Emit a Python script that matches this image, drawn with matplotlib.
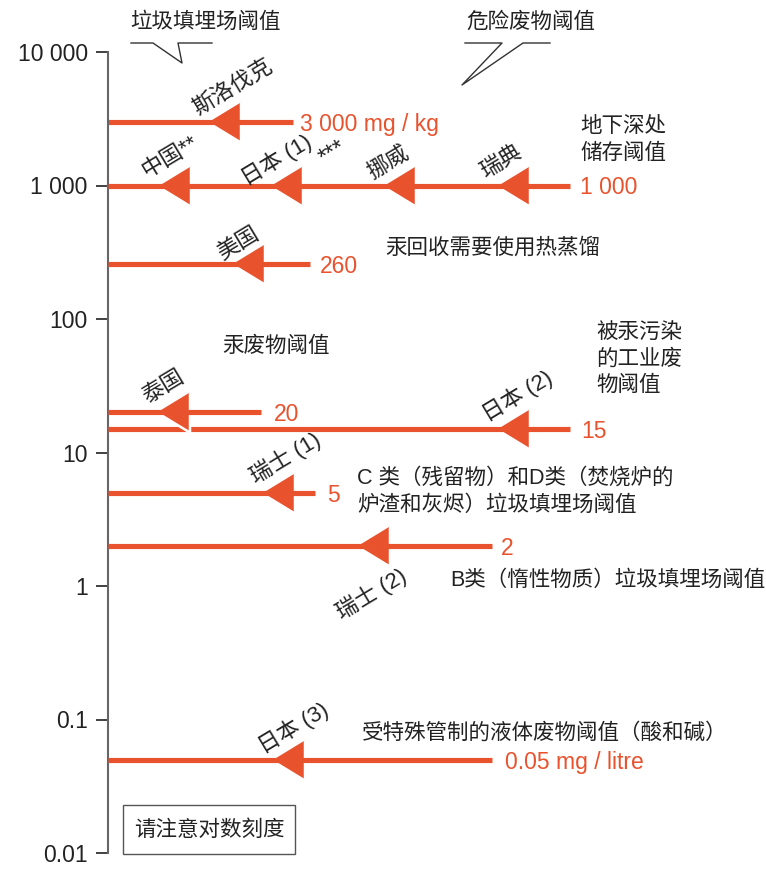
import numpy as np
import matplotlib
matplotlib.use("Agg")
import matplotlib.pyplot as plt
from matplotlib.lines import Line2D
from matplotlib.patches import Rectangle

plt.rcParams['font.family'] = ['Liberation Sans', 'Noto Sans CJK SC']

W, H = 766, 875
ORANGE = "#E8532E"
INK = "#222222"

# Donnees : seuils (mg/kg) et pays
valeurs = [3000, 1000, 260, 15, 20, 5, 2, 0.05]
etiquettes_valeur = ["3 000 mg / kg", "1 000", "260", "15", "20", "5", "2", "0.05 mg / litre"]
pays = [["斯洛伐克"], ["中国**", "日本 (1)", "挪威", "瑞典"], ["美国"], ["日本 (2)"],
        ["泰国"], ["瑞士 (1)"], ["瑞士 (2)"], ["日本 (3)"]]
graduations = [0.01, 0.1, 1, 10, 100, 1000, 10000]
labels_grad = ["0.01", "0.1", "1", "10", "100", "1 000", "10 000"]

# Mise en page (pixels) : fin de ligne, pointes des fleches, position des etiquettes
fin_ligne = [293, 570, 310, 570, 261, 315, 492, 492]
pointes = [[207], [157, 269, 382, 496], [231], [496], [156], [261], [356], [271]]
pos_pays = [[(233, 88)], [(170, 157), (276, 160), (388, 163), (501, 162)], [(238, 244)],
            [(517, 396)], [(163, 387)], [(285, 458)], [(371, 594)], [(293, 728)]]
x_label_val = [300, 580, 320, 581, 274, 327, 501, 505]


def fig_xy(x, y):
    return x / W, 1 - y / H


fig = plt.figure(figsize=(W / 100, H / 100), dpi=100)
y_top, y_bot = 52, 853
ax = fig.add_axes([108 / W, 1 - y_bot / H, (W - 108) / W, (y_bot - y_top) / H])
ax.set_yscale("log")
ax.set_ylim(0.01, 10000)
ax.set_xlim(108, W)
ax.patch.set_alpha(0)
for s in ["top", "right", "bottom"]:
    ax.spines[s].set_visible(False)
ax.spines["left"].set_color("#666666")
ax.spines["left"].set_linewidth(1.5)
ax.set_xticks([])
ax.set_yticks(graduations)
ax.set_yticklabels(labels_grad)
ax.yaxis.set_minor_locator(matplotlib.ticker.NullLocator())
ax.tick_params(axis="y", length=9, width=1.3, color="#333333", pad=5.5,
               labelsize=16.5, labelcolor=INK)

# triangle pointant vers la gauche
tri = [(-0.82, 0), (0.82, -1), (0.82, 1)]
demi = 16.5

for i, v in enumerate(valeurs):
    z = 2 + i
    ax.hlines(v, 108, fin_ligne[i], color=ORANGE, lw=3.7, zorder=z + 0.5)
    xs = [p + demi for p in pointes[i]]
    ax.plot(xs, [v] * len(xs), ls="none", marker=tri, markersize=29,
            color=ORANGE, markeredgecolor="white", markeredgewidth=1.8, zorder=z)
    ax.text(x_label_val[i], v, etiquettes_valeur[i], color=ORANGE, fontsize=16.5,
            ha="left", va="center_baseline", zorder=20)
    for nom, (px, py) in zip(pays[i], pos_pays[i]):
        fig.text(*fig_xy(px, py), nom, rotation=31, rotation_mode="anchor",
                 ha="center", va="center", fontsize=16, color=INK)

fig.text(*fig_xy(333, 153), "***", rotation=31, rotation_mode="anchor",
         ha="center", va="center", fontsize=17, color=INK)

# Textes explicatifs
textes = [
    ("垃圾填埋场阈值", 130, 22), ("危险废物阈值", 466, 22),
    ("地下深处", 580, 127), ("储存阈值", 580, 153),
    ("汞回收需要使用热蒸馏", 385, 248), ("汞废物阈值", 222, 346),
    ("被汞污染", 596, 332), ("的工业废", 596, 359), ("物阈值", 596, 385),
    ("C 类（残留物）和D类（焚烧炉的", 357, 478), ("炉渣和灰烬）垃圾填埋场阈值", 357, 505),
    ("B类（惰性物质）垃圾填埋场阈值", 450, 580),
    ("受特殊管制的液体废物阈值（酸和碱）", 362, 733),
]
for t, x, y in textes:
    fig.text(*fig_xy(x, y), t, ha="left", va="center", fontsize=15.5, color=INK)

# Bulles
bulles = [
    [(131, 43), (153, 43), (182, 63), (178, 43), (212, 43)],
    [(465, 43), (502, 43), (462, 85), (523, 43), (550, 43)],
]
for pts in bulles:
    fx, fy = zip(*[fig_xy(x, y) for x, y in pts])
    fig.add_artist(Line2D(fx, fy, color="#333333", lw=1.0, transform=fig.transFigure))

# Encadre
x0, y0 = fig_xy(123, 854)
fig.add_artist(Rectangle((x0, y0), (295 - 123) / W, (854 - 805) / H, fill=False,
                         edgecolor="#555555", lw=1.0, transform=fig.transFigure))
fig.text(*fig_xy(209, 830), "请注意对数刻度", ha="center", va="center",
         fontsize=15.5, color=INK)

fig.savefig("out.png", dpi=100)
